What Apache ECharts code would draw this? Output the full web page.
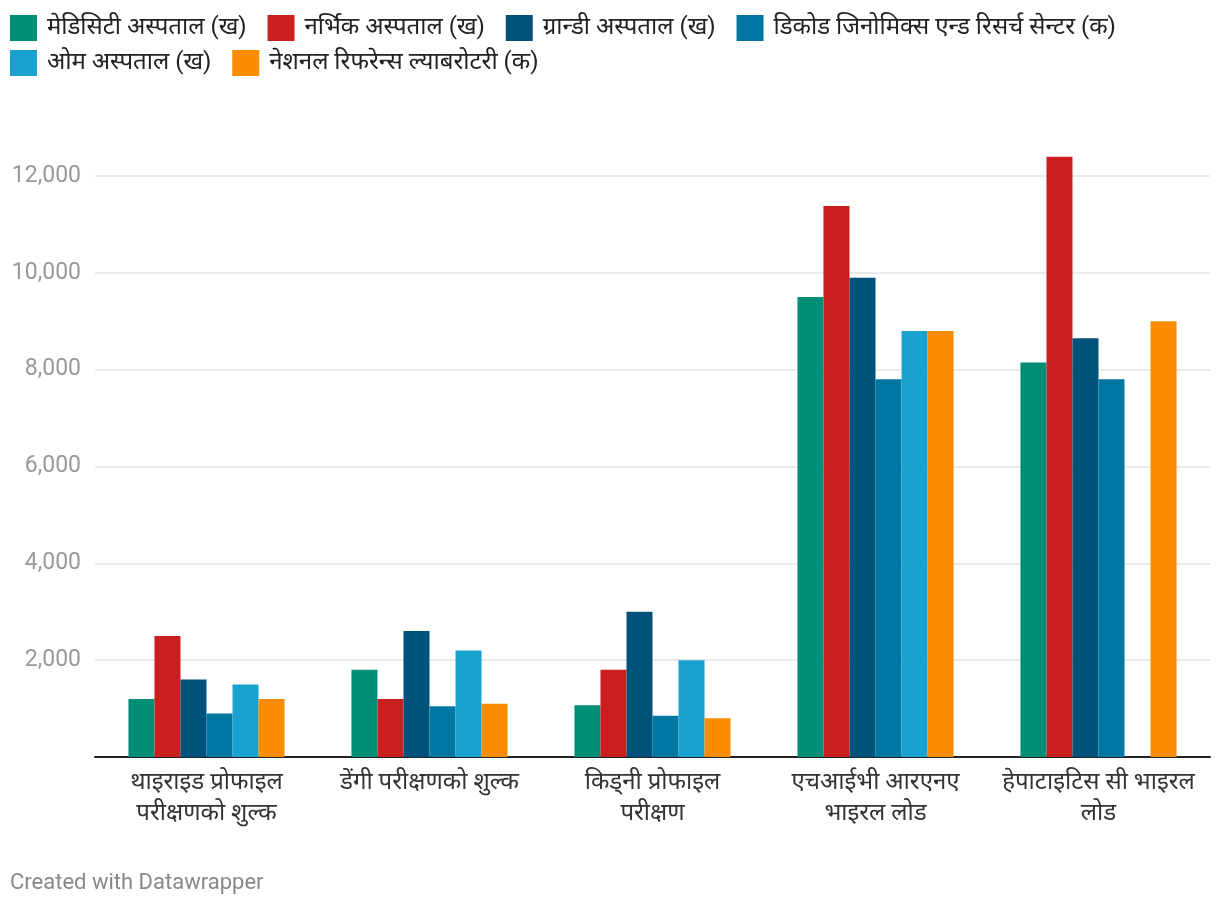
<!DOCTYPE html>
<html>
<head>
<meta charset="utf-8">
<script src="https://cdn.jsdelivr.net/npm/echarts@6/dist/echarts.min.js"></script>
<style>
html,body{margin:0;padding:0;background:#fff;}
#chart{width:1220px;height:910px;}
</style>
</head>
<body>
<div id="chart"></div>
<script>
const categories = [
  'थाइराइड प्रोफाइल\nपरीक्षणको शुल्क',
  'डेंगी परीक्षणको शुल्क',
  'किड्नी प्रोफाइल\nपरीक्षण',
  'एचआईभी आरएनए\nभाइरल लोड',
  'हेपाटाइटिस सी भाइरल\nलोड'
];
const seriesNames = [
  'मेडिसिटी अस्पताल (ख)',
  'नर्भिक अस्पताल (ख)',
  'ग्रान्डी अस्पताल (ख)',
  'डिकोड जिनोमिक्स एन्ड रिसर्च सेन्टर (क)',
  'ओम अस्पताल (ख)',
  'नेशनल रिफरेन्स ल्याबरोटरी (क)'
];
const mediciti  = [1200, 1800, 1070, 9500, 8150];
const norvic    = [2500, 1200, 1800, 11380, 12400];
const grandi    = [1600, 2600, 3000, 9900, 8650];
const decode    = [900, 1050, 850, 7800, 7800];
const om        = [1500, 2200, 2000, 8800, null];
const nrl       = [1200, 1100, 800, 8800, 9000];
const seriesValues = [mediciti, norvic, grandi, decode, om, nrl];
const colors = ['#008f76', '#c91f1f', '#00527b', '#0077a2', '#19a2cf', '#fa8c00'];
const yTicks = [0, 2000, 4000, 6000, 8000, 10000, 12000, 14000];

const chart = echarts.init(document.getElementById('chart'), null, {renderer: 'canvas'});
const font = 'Roboto, "Noto Sans", "Noto Sans Devanagari", sans-serif';

chart.setOption({
  animation: false,
  backgroundColor: '#ffffff',
  textStyle: {fontFamily: font},
  legend: {
    left: 10, top: 15, right: 10, padding: 0,
    itemWidth: 27, itemHeight: 26, itemGap: 9,
    icon: 'rect',
    formatter: function (name) { return '\u2009' + name + '\u00a0\u00a0'; },
    textStyle: {fontSize: 24, color: '#222', fontFamily: font},
    data: seriesNames
  },
  grid: {left: 95, right: 10, top: 79.2, bottom: 153, containLabel: false},
  xAxis: {
    type: 'category',
    data: categories,
    axisLine: {show: true, lineStyle: {color: '#222', width: 2}},
    axisTick: {show: false},
    axisLabel: {fontSize: 24, color: '#333', lineHeight: 31, margin: 10, interval: 0, fontFamily: font}
  },
  yAxis: {
    type: 'value',
    min: 0, max: 14000, interval: 2000,
    axisLine: {show: false},
    axisTick: {show: false},
    axisLabel: {
      fontSize: 23, color: '#999', margin: 14, fontFamily: font,
      formatter: function (v) { return (v === 0 || v === 14000) ? '' : v.toLocaleString('en-US'); }
    },
    splitLine: {lineStyle: {color: ['transparent', '#e5e5e5', '#e5e5e5', '#e5e5e5', '#e5e5e5', '#e5e5e5', '#e5e5e5', 'transparent'], width: 1.5}}
  },
  graphic: [{
    type: 'text', left: 10, top: 872,
    style: {text: 'Created with Datawrapper', fontSize: 22, fill: '#888', fontFamily: font}
  }],
  series: seriesNames.map(function (name, i) {
    return {
      name: name,
      type: 'bar',
      data: seriesValues[i],
      barGap: '0%',
      barCategoryGap: '30%',
      itemStyle: {color: colors[i]}
    };
  })
});
</script>
</body>
</html>
